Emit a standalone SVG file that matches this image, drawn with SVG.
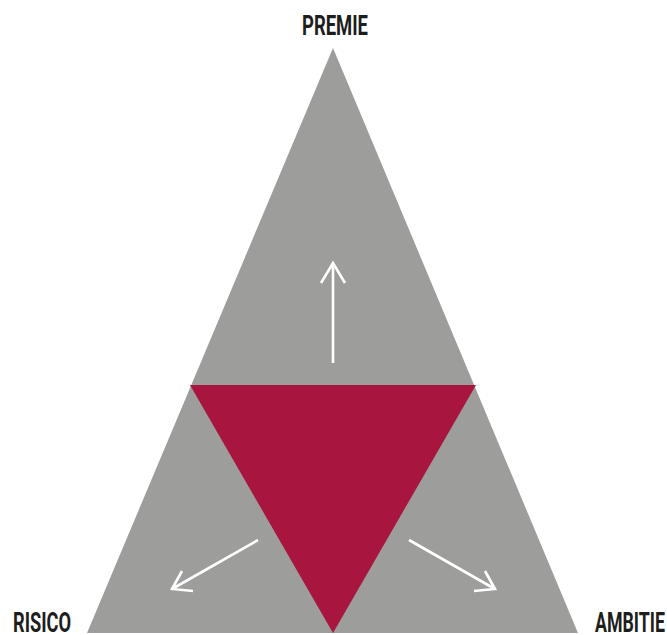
<svg xmlns="http://www.w3.org/2000/svg" width="667" height="635" viewBox="0 0 667 635">
<style>
.lbl{font-family:"Roboto","DejaVu Sans Condensed",sans-serif;font-weight:bold;font-size:28px;fill:#1d1d1b}
.arr{stroke:#ffffff;stroke-width:2.6;fill:none;stroke-linecap:butt;stroke-linejoin:miter}
</style>
<rect width="667" height="635" fill="#ffffff"/>
<g id="outer-triangle"><polygon points="333,48 578,633 87,633" fill="#9d9d9c"/></g>
<g id="inner-triangle"><polygon points="190,385 476,385 333,633" fill="#a8153f"/></g>
<g id="connectors">
<path class="arr" d="M333,363 V263 M321,283 L333,263 L345,283"/>
<path class="arr" d="M258,540 L172,589 M182,571 L172,589 L193,591"/>
<path class="arr" d="M409,540 L495,589 M485,571 L495,589 L474,591"/>
</g>
<g id="label-premie"><text class="lbl" x="302" y="35" textLength="66" lengthAdjust="spacingAndGlyphs">PREMIE</text></g>
<g id="label-risico"><text class="lbl" x="13" y="632" textLength="58" lengthAdjust="spacingAndGlyphs">RISICO</text></g>
<g id="label-ambitie"><text class="lbl" x="595" y="632" textLength="70" lengthAdjust="spacingAndGlyphs">AMBITIE</text></g>
</svg>
